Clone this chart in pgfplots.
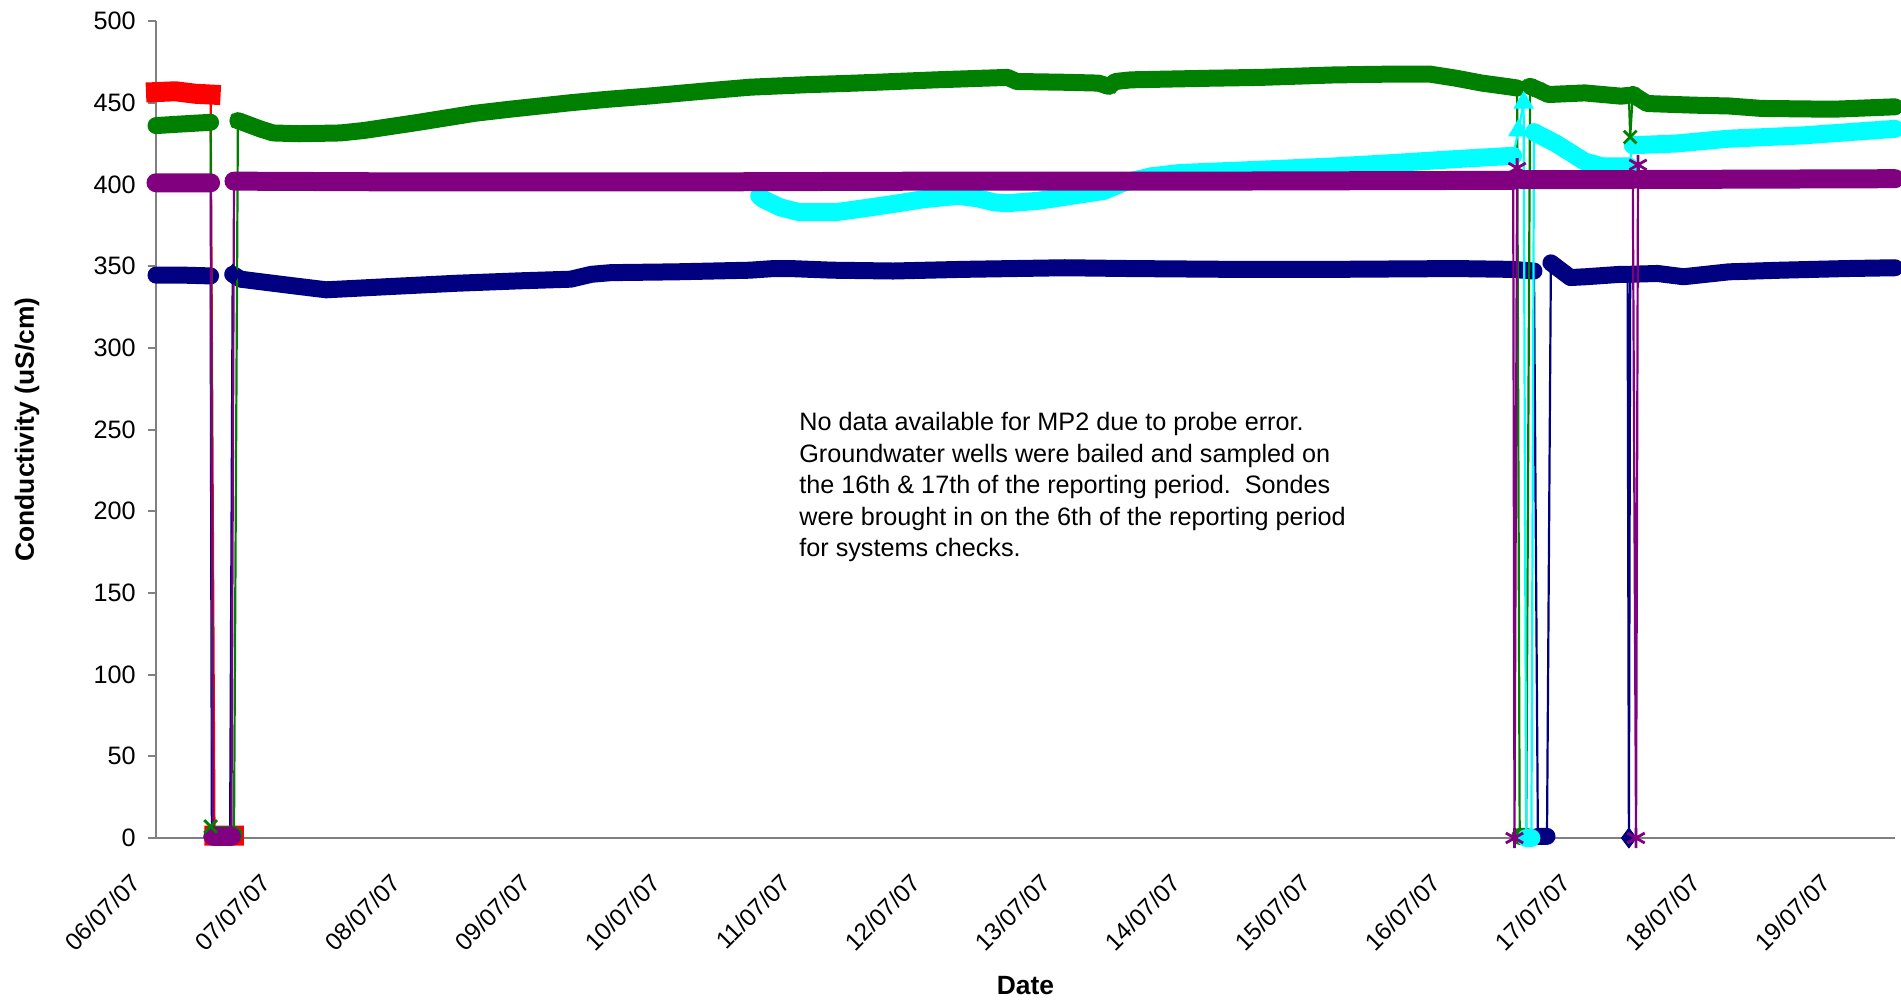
\documentclass[border=0pt]{standalone}
\usepackage{fontspec}
\setmainfont{Liberation Sans}
\usepackage{graphicx}
\usepackage{pgfplots}
\usepackage{pgfplotstable}
\pgfplotsset{compat=1.18}
\definecolor{xlred}{RGB}{255,0,0}
\definecolor{xlgreen}{RGB}{0,128,0}
\definecolor{xlpurple}{RGB}{128,0,128}
\definecolor{xlnavy}{RGB}{0,0,128}
\definecolor{xlcyan}{RGB}{0,255,255}
\definecolor{axgray}{RGB}{128,128,128}

\pgfplotstableread{
x y
0 344.5
0.2 344.5
0.42 344
0.425 nan
0.43 1
0.57 1
0.58 nan
0.59 345
0.65 342
0.8 340.5
1.0 338.5
1.31 335.5
1.8 337.5
2.31 339.5
2.8 341
3.19 342
3.35 345
3.5 346
4.0 346.5
4.57 347.5
4.75 348.5
4.88 348.5
5.2 347.5
5.67 347
6.2 348
6.99 349
7.5 348.5
8.3 348
9.03 348
10.0 348.5
10.43 348
10.6 347
10.61 nan
10.63 1
10.7 1
10.715 nan
10.73 352
10.88 343
11.0 343.5
11.27 345
11.32 345
11.325 nan
11.33 0
11.335 nan
11.34 345
11.55 345.5
11.75 343.5
12.1 346.5
12.5 347.5
13.0 348.5
13.377 349
}\navytab

\pgfplotstableread{
x y
0 456.5
0.15 457
0.3 455.5
0.42 455
0.425 nan
0.45 1.5
0.6 1.5
}\redtab

\pgfplotstableread{
x y
0 436
0.2 437
0.42 438
0.425 nan
0.44 2
0.6 2
0.61 nan
0.63 439
0.7 437
0.8 434
0.9 431.5
1.1 431
1.42 431.5
1.6 433
2.02 438
2.45 443.5
2.72 446
3.19 450
3.46 452
3.78 454
4.2 457
4.57 459.5
5.0 461
5.38 462
6.0 464
6.55 465.5
6.62 463
7.0 462.5
7.25 462
7.33 460
7.38 463
7.5 464
8.12 465
8.5 465.5
9.06 467
9.5 467.5
9.8 467.5
10.0 465
10.2 462
10.43 459.5
10.47 459
10.48 nan
10.49 1
10.54 1
10.55 nan
10.57 460
10.63 458
10.71 455
10.99 456
11.27 454
11.33 454.5
11.335 nan
11.34 429
11.345 nan
11.36 455
11.47 449.5
11.83 448.5
12.1 448
12.35 446.5
12.9 446
13.377 447.5
}\greentab

\pgfplotstableread{
x y
4.64 393
4.67 391
4.8 386
4.95 383
5.23 383
5.5 386
5.67 388
5.91 391
6.17 393
6.32 391.5
6.45 389
6.55 388.5
6.79 390
7.0 392.5
7.29 396
7.44 401
7.66 405
7.88 407
8.5 409
9.06 411
9.5 413
10.0 415.5
10.44 417.5
10.45 nan
10.48 433
10.49 nan
10.52 450
10.525 nan
10.54 0
10.58 0
10.585 nan
10.6 432
10.77 425
10.99 414
11.13 411
11.33 411
11.34 nan
11.36 424
11.69 425
12.1 428
12.67 430
13.377 434
}\cyantab

\pgfplotstableread{
x y
0 401
0.42 401
0.425 nan
0.44 1
0.58 1
0.59 nan
0.6 402
2.0 401.5
4.0 401.5
6.0 402
8.0 402
10.44 402.5
10.445 nan
10.45 0
10.455 nan
10.47 410
10.475 nan
10.5 403
11.36 403
11.37 nan
11.385 0
11.39 nan
11.40 412
11.41 nan
11.42 403
13.377 403.5
}\purpletab

\pgfplotsset{
  thinline/.style={line width=1.1pt, no markers},
  band/.style={line width=#1, no markers, unbounded coords=jump, line join=round, line cap=round},
}

\newcommand{\rl}[1]{\rotatebox{45}{#1}}

\begin{document}
\begin{tikzpicture}
\useasboundingbox (-78pt,-82.5pt) rectangle (872.5pt,419pt);
\begin{axis}[
  at={(0,0)}, anchor=south west, scale only axis,
  width=869.5pt, height=408.5pt,
  xmin=0, xmax=13.377, ymin=0, ymax=500,
  clip=false,
  axis x line*=bottom, axis y line*=left,
  axis line style={draw=axgray, line width=1pt, -},
  xtick={0,1,...,13},
  xticklabels={\rl{06/07/07},\rl{07/07/07},\rl{08/07/07},\rl{09/07/07},\rl{10/07/07},\rl{11/07/07},\rl{12/07/07},\rl{13/07/07},\rl{14/07/07},\rl{15/07/07},\rl{16/07/07},\rl{17/07/07},\rl{18/07/07},\rl{19/07/07}},
  ytick={0,50,...,500},
  tick align=outside,
  major tick length=4pt,
  ytick style={draw=axgray, line width=1pt},
  xtick style={draw=none},
  yticklabel style={font=\fontsize{12.6}{15}\selectfont, anchor=east, inner sep=0pt, xshift=-6pt},
  xticklabel style={font=\fontsize{12.2}{15}\selectfont, anchor=north east, inner sep=0pt, xshift=-6.5pt, yshift=-13pt},
  /pgf/number format/assume math mode=true,
  xlabel={Date}, ylabel={Conductivity (uS/cm)},
  label style={font=\bfseries\fontsize{13.2}{16}\selectfont},
  xlabel style={at={(axis description cs:0.5,-0.18115)}, anchor=center},
  ylabel style={at={(axis description cs:-0.07418,0.5)}, anchor=center},
]
% navy
\addplot[thinline, xlnavy] table {\navytab};
\addplot[band=8.5pt, xlnavy] table {\navytab};
\addplot[only marks, mark=diamond*, mark size=5pt, xlnavy] coordinates {(11.33,0) (0.59,345)};
% red
\addplot[thinline, xlred] table {\redtab};
\addplot[band=10pt, xlred, line cap=rect] table {\redtab};
% green
\addplot[thinline, xlgreen] table {\greentab};
\addplot[band=8.5pt, xlgreen] table {\greentab};
\addplot[only marks, mark=x, mark size=4.5pt, line width=1.4pt, xlgreen] coordinates {(0.42,7) (0.63,439) (7.33,460) (10.47,459) (10.57,460) (10.63,458) (11.34,429) (11.36,455)};
% cyan
\addplot[thinline, xlcyan] table {\cyantab};
\addplot[band=9pt, xlcyan] table {\cyantab};
\addplot[only marks, mark=triangle*, mark size=5.5pt, xlcyan] coordinates {(10.48,433) (10.52,450)};
% purple
\addplot[thinline, xlpurple] table {\purpletab};
\addplot[band=9.5pt, xlpurple] table {\purpletab};
\addplot[only marks, mark=asterisk, mark size=5pt, line width=1.4pt, xlpurple] coordinates {(10.45,0) (10.47,410) (11.385,0) (11.40,412)};

\node[anchor=north west, align=left, inner sep=0pt, font=\fontsize{12.6}{15.75}\selectfont] at (axis cs:4.946,260.7)
  {No data available for MP2 due to probe error.\\Groundwater wells were bailed and sampled on\\the 16th \& 17th of the reporting period.\ \ Sondes\\were brought in on the 6th of the reporting period\\for systems checks.};
\end{axis}
\end{tikzpicture}
\end{document}
